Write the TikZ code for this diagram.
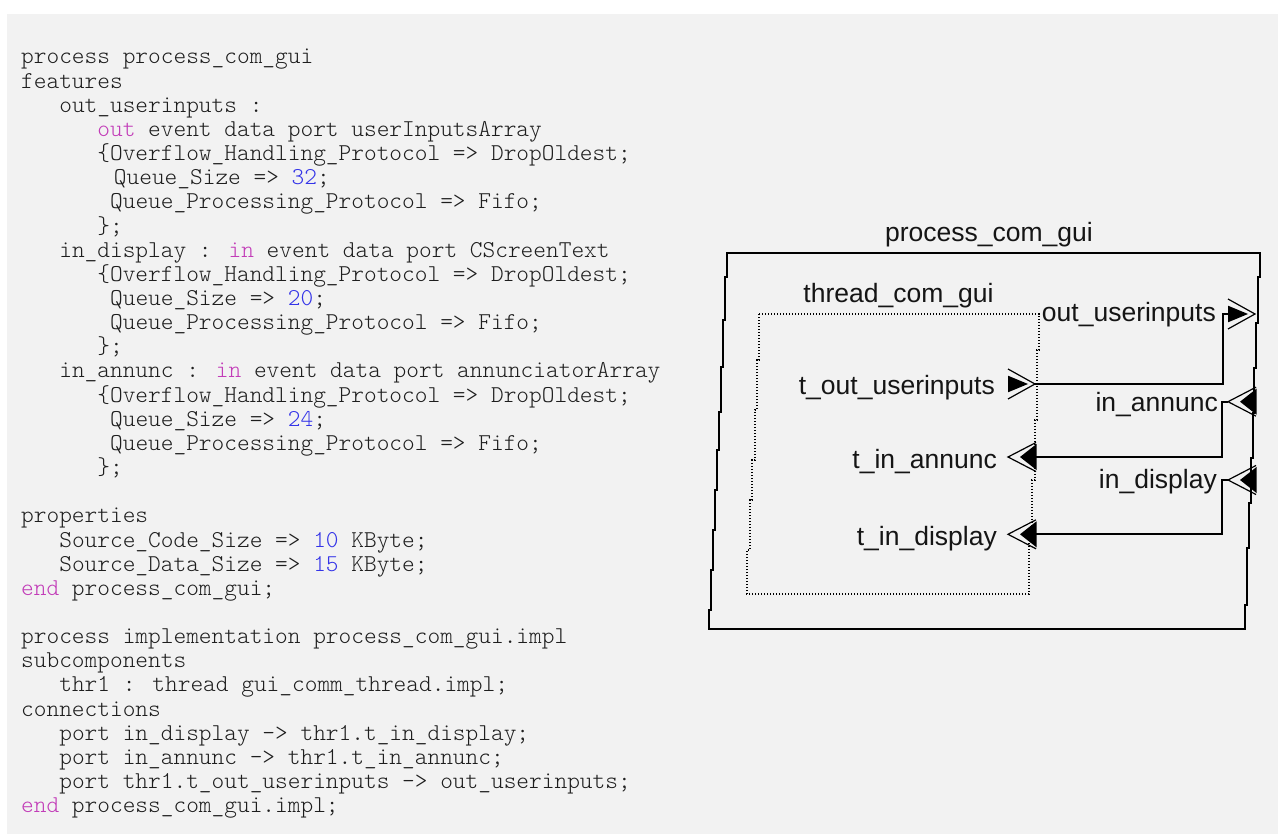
\documentclass[tikz,border=0pt]{standalone}
\usepackage{fontspec}
\newfontfamily\codefont{lmmonolt10-regular.otf}
\newfontfamily\diagfont{Liberation Sans}
\definecolor{pagebg}{HTML}{F2F2F2}
\definecolor{srctext}{HTML}{1E1E1E}
\definecolor{kwcol}{HTML}{C23CB8}
\definecolor{numcol}{HTML}{3434E8}
\definecolor{diagtext}{HTML}{151515}
\newcommand\kw[1]{{\color{kwcol}#1}}
\newcommand\nm[1]{{\color{numcol}#1}}
% one line of source: #1 line number, #2 indent in characters, #3 text
\newcommand\srcline[3]{\node[src] (line#1) at ({21+#2*12.7},{64+(#1-1)*24.15}) {#3};}

\tikzset{
  src/.style={anchor=base west, inner sep=0pt, text=srctext,
    font=\codefont\fontsize{24.19}{26}\selectfont},
  lbl/.style={inner sep=0pt, text=diagtext,
    font=\diagfont\fontsize{26.5}{30}\selectfont},
  frame/.style={line width=2pt, line join=miter},
  threadbox/.style={line width=1.3pt, dash pattern=on 1.3pt off 1.7pt},
  wire/.style={line width=2pt},
  outport/.pic={
    \fill (-27,-8.3) -- (-7,0) -- (-27,8.3) -- cycle;
    \draw[line width=1.2pt] (-27,-15) -- (0,0) -- (-27,15);
  },
  inport/.pic={
    \fill (28.5,-13) -- (12,0) -- (28.5,13) -- cycle;
    \draw[line width=1.2pt] (28,-14.5) -- (0,0) -- (28,14.5);
  }
}

\begin{document}
\begin{tikzpicture}[x=1pt,y=-1pt]
\useasboundingbox (0,0) rectangle (1278,834);
\fill[white] (0,0) rectangle (1278,834);
\fill[pagebg] (7,14) rectangle (1278,834);

% ---------------- AADL source ----------------
\srcline{1}{0}{process process\_com\_gui}
\srcline{2}{0}{features}
\srcline{3}{3}{out\_userinputs :}
\srcline{4}{6}{\kw{out} event data port userInputsArray}
\srcline{5}{6}{\{Overflow\_Handling\_Protocol => DropOldest;}
\srcline{6}{7.3}{Queue\_Size => \nm{32};}
\srcline{7}{7}{Queue\_Processing\_Protocol => Fifo;}
\srcline{8}{6}{\};}
\srcline{9}{3}{in\_display : \kw{in} event data port CScreenText}
\srcline{10}{6}{\{Overflow\_Handling\_Protocol => DropOldest;}
\srcline{11}{7}{Queue\_Size => \nm{20};}
\srcline{12}{7}{Queue\_Processing\_Protocol => Fifo;}
\srcline{13}{6}{\};}
\srcline{14}{3}{in\_annunc : \kw{in} event data port annunciatorArray}
\srcline{15}{6}{\{Overflow\_Handling\_Protocol => DropOldest;}
\srcline{16}{7}{Queue\_Size => \nm{24};}
\srcline{17}{7}{Queue\_Processing\_Protocol => Fifo;}
\srcline{18}{6}{\};}
\srcline{20}{0}{properties}
\srcline{21}{3}{Source\_Code\_Size => \nm{10} KByte;}
\srcline{22}{3}{Source\_Data\_Size => \nm{15} KByte;}
\srcline{23}{0}{\kw{end} process\_com\_gui;}
\srcline{25}{0}{process implementation process\_com\_gui.impl}
\srcline{26}{0}{subcomponents}
\srcline{27}{3}{thr1 : thread gui\_comm\_thread.impl;}
\srcline{28}{0}{connections}
\srcline{29}{3}{port in\_display -> thr1.t\_in\_display;}
\srcline{30}{3}{port in\_annunc -> thr1.t\_in\_annunc;}
\srcline{31}{3}{port thr1.t\_out\_userinputs -> out\_userinputs;}
\srcline{32}{0}{\kw{end} process\_com\_gui.impl;}

% ---------------- process frame (stepped edges) ----------------
\draw[frame]
  (727,253) -- (1260,253)
  -- (1260,277) -- (1258.1,277) -- (1258.1,323) -- (1256.25,323)
  -- (1256.25,368) -- (1254.4,368) -- (1254.4,413) -- (1252.5,413)
  -- (1252.5,458) -- (1250.6,458) -- (1250.6,503) -- (1248.75,503)
  -- (1248.75,548) -- (1246.9,548) -- (1246.9,605) -- (1245,605)
  -- (1245,629) -- (709,629)
  -- (709,610) -- (711,610) -- (711,570) -- (713,570) -- (713,530)
  -- (715,530) -- (715,490) -- (717,490) -- (717,450) -- (719.3,450)
  -- (719.3,412) -- (721,412) -- (721,367) -- (722.7,367) -- (722.7,320)
  -- (724.5,320) -- (724.5,277) -- (727,277) -- cycle;
\node[lbl, anchor=base] (ptitle) at (989,242) {process\_com\_gui};

% ---------------- thread (dotted) ----------------
\draw[threadbox]
  (759,314) -- (1039,314)
  -- (1039,350) -- (1037,350) -- (1037,420) -- (1035,420) -- (1035,480)
  -- (1032,480) -- (1032,540) -- (1029,540) -- (1029,594)
  -- (747,594)
  -- (747,550) -- (750,550) -- (750,500) -- (752,500) -- (752,460)
  -- (755,460) -- (755,410) -- (757,410) -- (757,360) -- (759,360) -- cycle;
\node[lbl, anchor=base] (ttitle) at (898.5,303) {thread\_com\_gui};

% ---------------- port labels ----------------
\node[lbl, anchor=base east] (ltout) at (995,395) {t\_out\_userinputs};
\node[lbl, anchor=base east] (ltann) at (997,468) {t\_in\_annunc};
\node[lbl, anchor=base east] (ltdisp) at (997,545) {t\_in\_display};
\node[lbl, anchor=base east] (lpout) at (1216,322) {out\_userinputs};
\node[lbl, anchor=base east] (lpann) at (1218,411) {in\_annunc};
\node[lbl, anchor=base east] (lpdisp) at (1217,488) {in\_display};

% ---------------- ports ----------------
\coordinate (tout) at (1035,384);
\coordinate (pout) at (1255,314);
\coordinate (poutc) at (1228.5,314);
\coordinate (pann) at (1228,401.7);
\coordinate (tann) at (1008,457);
\coordinate (tannc) at (1036,457);
\coordinate (pdisp) at (1228,480);
\coordinate (tdisp) at (1008,534.3);
\coordinate (tdispc) at (1036,534.3);

\pic at (tout) {outport};
\pic at (pout) {outport};
\pic at (pann) {inport};
\pic at (tann) {inport};
\pic at (pdisp) {inport};
\pic at (tdisp) {inport};

% ---------------- connections ----------------
\draw[wire] (tout) -| ([xshift=-5.5pt]poutc) -- (poutc);
\draw[wire] (pann) -- ([xshift=-5.7pt]pann) |- (tannc);
\draw[wire] (pdisp) -- ([xshift=-5.7pt]pdisp) |- (tdispc);
\end{tikzpicture}
\end{document}
